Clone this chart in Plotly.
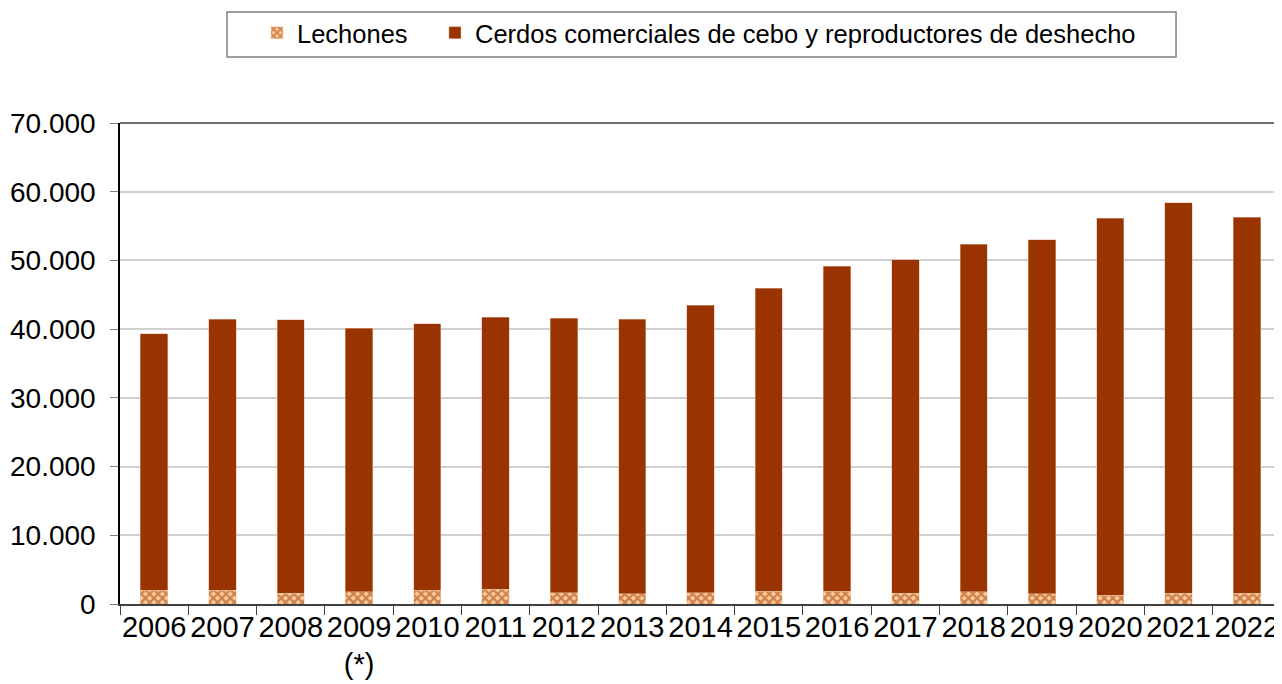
import plotly.graph_objects as go

years = ["2006", "2007", "2008", "2009", "2010", "2011", "2012", "2013", "2014",
         "2015", "2016", "2017", "2018", "2019", "2020", "2021", "2022"]
year_labels = ["2006", "2007", "2008", "2009<br>(*)", "2010", "2011", "2012", "2013", "2014",
               "2015", "2016", "2017", "2018", "2019", "2020", "2021", "2022"]
totals = [39300, 41460, 41360, 40150, 40820, 41750, 41550, 41460, 43500,
          45920, 49120, 50090, 52380, 53010, 56170, 58400, 56310]
lechones = [1980, 1980, 1600, 1790, 1980, 2160, 1650, 1500, 1650,
            1840, 1840, 1600, 1800, 1460, 1310, 1600, 1600]
cerdos = [t - l for t, l in zip(totals, lechones)]

font_family = "Liberation Sans, Arial, sans-serif"

fig = go.Figure()
fig.add_trace(go.Bar(
    x=years, y=lechones, name="Lechones", width=0.4, legend="legend",
    marker=dict(color="#FFCC99",
                pattern=dict(shape="x", fgcolor="#993300", bgcolor="#FFCC99",
                             size=6, solidity=0.6),
                line=dict(color="#F0D0B0", width=0.5)),
))
fig.add_trace(go.Bar(
    x=years, y=cerdos, name="Cerdos comerciales de cebo y reproductores de deshecho",
    width=0.4, legend="legend2",
    marker=dict(color="#993300", line=dict(color="#E0B8A0", width=0.5)),
))

legend_common = dict(orientation="h", xanchor="left", y=1.187, yanchor="middle",
                     borderwidth=0, bgcolor="rgba(0,0,0,0)", font=dict(size=25.5))

fig.update_layout(
    barmode="stack",
    width=1274, height=676,
    margin=dict(l=112, r=1, t=115, b=80, autoexpand=False),
    paper_bgcolor="white", plot_bgcolor="white",
    separators=",.",
    font=dict(family=font_family, size=28, color="black"),
    legend=dict(x=0.118, **legend_common),
    legend2=dict(x=0.2713, **legend_common),
    showlegend=True,
)
fig.update_xaxes(
    type="category", tickvals=years, ticktext=year_labels, tickangle=0,
    tickson="boundaries", ticks="outside", ticklen=9, tickcolor="#404040",
    showline=True, linecolor="#404040", linewidth=1.5, mirror=False,
    showgrid=False, tickfont=dict(size=29), automargin=False,
    ticklabelstandoff=-4,
)
fig.update_yaxes(
    range=[0, 70000], dtick=10000, tickformat=",d",
    ticks="outside", ticklen=8, tickcolor="#808080",
    showline=True, linecolor="black", linewidth=1.5,
    gridcolor="#D0D0D0", gridwidth=1.5, zeroline=False,
    tickfont=dict(size=28), automargin=False, ticklabelstandoff=9,
)
# plot frame: top and right border
fig.add_shape(type="line", xref="paper", yref="paper", x0=0, x1=1, y0=1, y1=1,
              line=dict(color="#707070", width=2))
fig.add_shape(type="line", xref="paper", yref="paper", x0=1, x1=1, y0=0, y1=1,
              line=dict(color="#707070", width=2))
# legend frame
fig.add_shape(type="rect", xref="paper", yref="paper",
              x0=0.0922, x1=0.9096, y0=1.1372, y1=1.2308,
              line=dict(color="#808080", width=1.5), fillcolor="rgba(0,0,0,0)")

fig.write_html("out.html")
